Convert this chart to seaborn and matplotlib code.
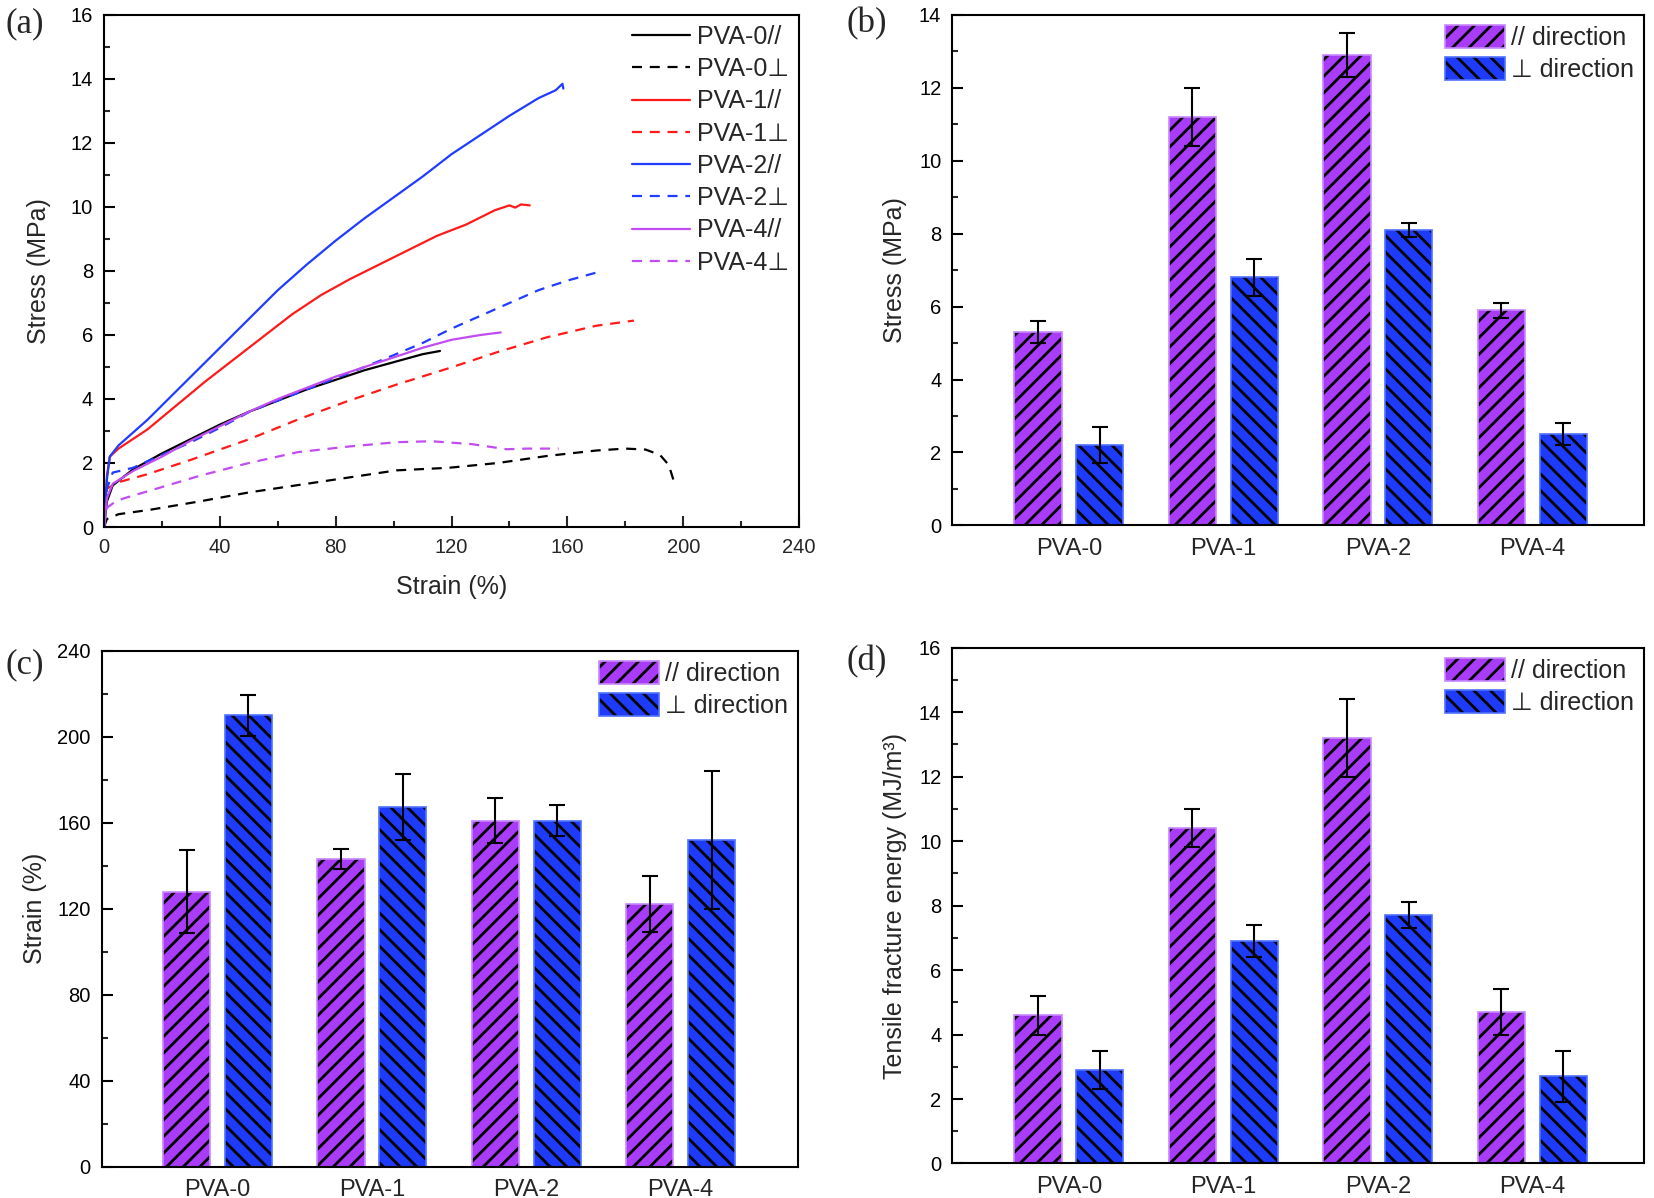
import numpy as np
import pandas as pd
import matplotlib
matplotlib.use("Agg")
import matplotlib.pyplot as plt
import matplotlib.colors as mcolors
from matplotlib.patches import Patch
from matplotlib.ticker import MultipleLocator
import seaborn as sns

# ---------------- data: panel (a) stress-strain curves ----------------
pva0_par_x = [0, 1, 3, 10, 20, 30, 40, 50, 60, 70, 80, 90, 100, 110, 116]
pva0_par_y = [0, 0.8, 1.3, 1.8, 2.3, 2.75, 3.2, 3.6, 3.95, 4.3, 4.6, 4.9, 5.15, 5.4, 5.5]
pva0_per_x = [0, 1, 5, 16, 33, 50, 67, 84, 101, 119, 136, 153, 170, 180, 187, 192, 195, 196.7]
pva0_per_y = [0, 0.25, 0.4, 0.54, 0.8, 1.08, 1.31, 1.54, 1.77, 1.85, 2.0, 2.22, 2.39, 2.45, 2.42, 2.25, 1.94, 1.45]
pva1_par_x = [0, 1, 2, 5, 10, 15, 25, 35, 45, 55, 65, 75, 85, 95, 105, 115, 125, 135, 140, 142, 144, 147]
pva1_par_y = [0, 1.6, 2.2, 2.45, 2.75, 3.05, 3.8, 4.55, 5.25, 5.95, 6.65, 7.25, 7.75, 8.2, 8.65, 9.1, 9.45, 9.9, 10.05, 9.98, 10.08, 10.05]
pva1_per_x = [0, 1, 5, 15, 30, 50, 67, 84, 101, 119, 136, 153, 170, 183]
pva1_per_y = [0, 1.2, 1.4, 1.65, 2.1, 2.74, 3.36, 3.93, 4.45, 4.96, 5.47, 5.93, 6.29, 6.45]
pva2_par_x = [0, 1, 2, 5, 15, 30, 40, 50, 60, 70, 80, 90, 100, 110, 120, 130, 140, 150, 156, 158.3, 158.6]
pva2_par_y = [0, 1.5, 2.2, 2.55, 3.35, 4.7, 5.6, 6.5, 7.4, 8.2, 8.95, 9.65, 10.3, 10.95, 11.65, 12.25, 12.85, 13.4, 13.65, 13.85, 13.7]
pva2_per_x = [0, 1, 3, 10, 20, 30, 40, 50, 60, 70, 80, 90, 100, 110, 120, 130, 140, 150, 160, 170, 171.5]
pva2_per_y = [0, 1.2, 1.7, 1.85, 2.25, 2.65, 3.1, 3.59, 3.95, 4.3, 4.65, 5.0, 5.37, 5.75, 6.2, 6.6, 7.0, 7.4, 7.7, 7.95, 7.97]
pva4_par_x = [0, 1, 3, 10, 20, 30, 40, 50, 60, 70, 80, 90, 100, 110, 120, 130, 137]
pva4_par_y = [0, 0.9, 1.35, 1.75, 2.2, 2.7, 3.15, 3.6, 4.0, 4.35, 4.7, 5.0, 5.3, 5.6, 5.85, 6.0, 6.08]
pva4_per_x = [0, 1, 4, 7, 16, 33, 50, 67, 84, 101, 113, 127, 139, 146, 157]
pva4_per_y = [0, 0.6, 0.8, 0.9, 1.14, 1.6, 2.0, 2.34, 2.51, 2.65, 2.68, 2.59, 2.43, 2.45, 2.45]

curve_labels = ["PVA-0//", "PVA-0\u22a5", "PVA-1//", "PVA-1\u22a5",
                "PVA-2//", "PVA-2\u22a5", "PVA-4//", "PVA-4\u22a5"]

# ---------------- data: bar panels ----------------
samples = ["PVA-0", "PVA-1", "PVA-2", "PVA-4"]
directions = ["// direction", "\u22a5 direction"]

stress_par = [5.3, 11.2, 12.9, 5.9]
stress_par_err = [0.3, 0.8, 0.6, 0.2]
stress_per = [2.2, 6.8, 8.1, 2.5]
stress_per_err = [0.5, 0.5, 0.2, 0.3]

strain_par = [128, 143, 161, 122]
strain_par_err = [19.5, 4.7, 10.3, 13]
strain_per = [210, 167.5, 161, 152]
strain_per_err = [9.5, 15.4, 7.2, 32]

energy_par = [4.6, 10.4, 13.2, 4.7]
energy_par_err = [0.6, 0.6, 1.2, 0.7]
energy_per = [2.9, 6.9, 7.7, 2.7]
energy_per_err = [0.6, 0.5, 0.4, 0.8]

# ---------------- style ----------------
sns.set_theme(style="ticks")
plt.rcParams["font.family"] = ["Liberation Sans", "DejaVu Sans"]
plt.rcParams["hatch.linewidth"] = 2.0
plt.rcParams["axes.linewidth"] = 1.5
plt.rcParams["axes.edgecolor"] = "black"

BLACK = "#000000"
RED = "#FF1A1A"
BLUE = "#1F3CFF"
MAG = "#C04CF2"
BAR_PUR = "#A83CF8"
BAR_BLU = "#1E3BFA"
EDGE_PUR = "#C987FF"
EDGE_BLU = "#4F72FF"

TICK_FS = 14.5
LAB_FS = 18
LEG_FS = 18

fig = plt.figure(figsize=(16.54, 11.98), dpi=100)
axA = fig.add_axes([0.0629, 0.5601, 0.4202, 0.4274])
axB = fig.add_axes([0.5758, 0.5615, 0.4184, 0.4260])
axC = fig.add_axes([0.0615, 0.0261, 0.4210, 0.4307])
axD = fig.add_axes([0.5758, 0.0288, 0.4184, 0.4307])


def style_axis(ax, ymajor, yminor, xmajor=None, xminor=None):
    for s in ax.spines.values():
        s.set_visible(True)
        s.set_color("black")
        s.set_linewidth(1.5)
    ax.yaxis.set_major_locator(MultipleLocator(ymajor))
    ax.yaxis.set_minor_locator(MultipleLocator(yminor))
    ax.tick_params(axis="y", which="major", direction="in", length=8, width=1.5,
                   labelsize=TICK_FS, pad=8, left=True, right=False, colors="black")
    ax.tick_params(axis="y", which="minor", direction="in", length=4, width=1.5,
                   left=True, right=False)
    if xmajor is not None:
        ax.xaxis.set_major_locator(MultipleLocator(xmajor))
        ax.xaxis.set_minor_locator(MultipleLocator(xminor))
        ax.tick_params(axis="x", which="major", direction="in", length=8, width=1.5,
                       labelsize=TICK_FS, pad=8, bottom=True, top=False)
        ax.tick_params(axis="x", which="minor", direction="in", length=4, width=1.5,
                       bottom=True, top=False)
    ax.grid(False)
    ax.set_facecolor("white")


def black_hatch(p):
    if hasattr(p, "set_hatchcolor"):
        p.set_hatchcolor("black")
    else:
        p._hatch_color = mcolors.to_rgba("black")


# ---------------- panel (a) ----------------
curves = [
    (pva0_par_x, pva0_par_y, BLACK, "-"),
    (pva0_per_x, pva0_per_y, BLACK, (0, (4.5, 3.5))),
    (pva1_par_x, pva1_par_y, RED, "-"),
    (pva1_per_x, pva1_per_y, RED, (0, (4.5, 3.5))),
    (pva2_par_x, pva2_par_y, BLUE, "-"),
    (pva2_per_x, pva2_per_y, BLUE, (0, (4.5, 3.5))),
    (pva4_par_x, pva4_par_y, MAG, "-"),
    (pva4_per_x, pva4_per_y, MAG, (0, (4.5, 3.5))),
]
for (xs, ys, col, ls), lab in zip(curves, curve_labels):
    sns.lineplot(x=xs, y=ys, ax=axA, color=col, linestyle=ls, linewidth=1.6,
                 label=lab, sort=False, estimator=None)
axA.set_xlim(0, 240)
axA.set_ylim(0, 16)
style_axis(axA, 2, 1, 40, 20)
axA.set_xlabel("Strain (%)", fontsize=LAB_FS)
axA.set_ylabel("Stress (MPa)", fontsize=LAB_FS)
axA.yaxis.set_label_coords(-0.076, 0.5)
axA.xaxis.set_label_coords(0.5, -0.094)
legA = axA.legend(loc="upper right", frameon=False, fontsize=LEG_FS,
                  handlelength=2.3, handletextpad=0.28, labelspacing=0.33,
                  borderpad=0.3, borderaxespad=0.1, bbox_to_anchor=(1.0, 1.0))


# ---------------- bar panels ----------------
def bar_panel(ax, par, par_err, per, per_err, ymax, ymajor, yminor, ylabel,
              xlim, ylab_x):
    df = pd.DataFrame({
        "sample": samples * 2,
        "direction": [directions[0]] * 4 + [directions[1]] * 4,
        "value": list(par) + list(per),
    })
    sns.barplot(data=df, x="sample", y="value", hue="direction",
                hue_order=directions, order=samples,
                palette={directions[0]: BAR_PUR, directions[1]: BAR_BLU},
                width=0.8, gap=0.235, errorbar=None, legend=False, ax=ax,
                saturation=1)
    hatches = ["//", "\\\\"]
    edges = [EDGE_PUR, EDGE_BLU]
    errs = [par_err, per_err]
    vals = [par, per]
    for k, cont in enumerate(ax.containers[:2]):
        xs = []
        for p in cont.patches:
            p.set_hatch(hatches[k])
            p.set_edgecolor(edges[k])
            p.set_linewidth(1.2)
            black_hatch(p)
            xs.append(p.get_x() + p.get_width() / 2)
        ax.errorbar(xs, vals[k], yerr=errs[k], fmt="none", ecolor="black",
                    elinewidth=1.5, capsize=6, capthick=1.5, zorder=5)
    ax.set_xlim(*xlim)
    ax.set_ylim(0, ymax)
    style_axis(ax, ymajor, yminor)
    ax.tick_params(axis="x", which="both", length=0, labelsize=17, pad=9,
                   bottom=False, top=False)
    ax.set_xlabel("")
    ax.set_ylabel(ylabel, fontsize=LAB_FS)
    ax.yaxis.set_label_coords(ylab_x, 0.5)
    handles = [Patch(facecolor=BAR_PUR, edgecolor=EDGE_PUR, hatch="//", linewidth=1.2),
               Patch(facecolor=BAR_BLU, edgecolor=EDGE_BLU, hatch="\\\\", linewidth=1.2)]
    leg = ax.legend(handles, directions, loc="upper right", frameon=False,
                    fontsize=LEG_FS, handlelength=2.4, handleheight=1.05,
                    handletextpad=0.25, labelspacing=0.28, borderpad=0.3,
                    borderaxespad=0.1)
    for p in leg.get_patches():
        black_hatch(p)
    return ax


bar_panel(axB, stress_par, stress_par_err, stress_per, stress_per_err,
          14, 2, 1, "Stress (MPa)", (-0.754, 3.725), -0.0656)
bar_panel(axC, strain_par, strain_par_err, strain_per, strain_per_err,
          240, 40, 20, "Strain (%)", (-0.75, 3.76), -0.079)
bar_panel(axD, energy_par, energy_par_err, energy_per, energy_per_err,
          16, 2, 1, "Tensile fracture energy (MJ/m\u00b3)", (-0.754, 3.725), -0.0656)

# ---------------- panel labels ----------------
for lab, (px, py) in zip(["(a)", "(b)", "(c)", "(d)"],
                         [(25, 24), (867, 24), (25, 665), (867, 662)]):
    fig.text(px / 1654, 1 - py / 1198, lab, fontsize=25,
             family=["Liberation Serif", "DejaVu Serif"],
             ha="center", va="center")

fig.savefig("out.png", dpi=100, facecolor="white")
